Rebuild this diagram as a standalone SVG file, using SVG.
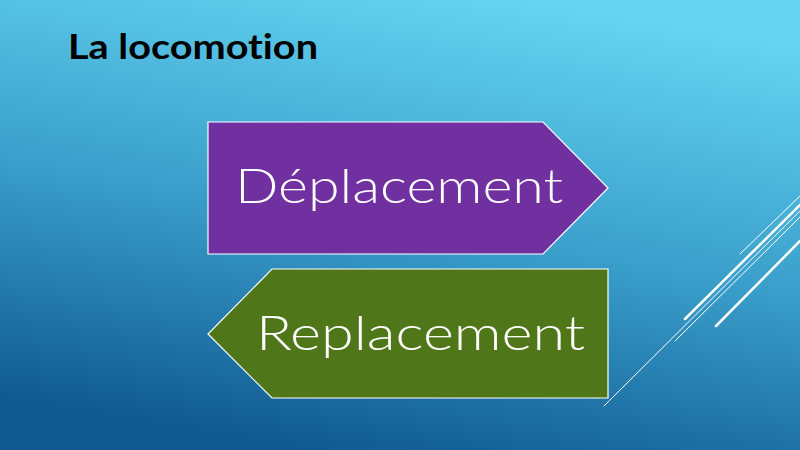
<svg xmlns="http://www.w3.org/2000/svg" width="800" height="450" viewBox="0 0 800 450">
<defs>
<linearGradient id="bg" x1="0.35" y1="1" x2="0.65" y2="0">
<stop offset="0" stop-color="#0f5890"/>
<stop offset="0.5" stop-color="#3a9fcb"/>
<stop offset="1" stop-color="#64d4f0"/>
</linearGradient>
<style>
text{font-variant-ligatures:none}
.shape{stroke:#ffffff;stroke-width:1.2}
.lbl{font-family:Lato,"Open Sans","DejaVu Sans",sans-serif;font-weight:300;font-size:48px;fill:#ffffff}
.deco{stroke:#ffffff;stroke-linecap:round;fill:none}
</style>
</defs>
<rect width="800" height="450" fill="url(#bg)"/>
<text x="68" y="59" font-family="Lato,'DejaVu Sans',sans-serif" font-weight="700" font-size="34" fill="#000000" textLength="250" lengthAdjust="spacingAndGlyphs">La locomotion</text>
<g id="decor">
<line class="deco" x1="740" y1="254" x2="800" y2="196" stroke-width="1"/>
<line class="deco" x1="685" y1="319" x2="800" y2="205" stroke-width="2.5"/>
<line class="deco" x1="604" y1="406" x2="800" y2="211" stroke-width="1"/>
<line class="deco" x1="675" y1="341" x2="800" y2="217" stroke-width="1"/>
<line class="deco" x1="716" y1="326" x2="800" y2="241" stroke-width="2.5"/>
</g>
<g id="deplacement">
<polygon class="shape" points="208,122 543,122 608,188 543,254 208,254" fill="#7030a0"/>
<text class="lbl" x="235" y="203" textLength="328" lengthAdjust="spacingAndGlyphs">Déplacement</text>
</g>
<g id="replacement">
<polygon class="shape" points="272,269 608,269 608,398 272,398 208,334" fill="#50761a"/>
<text class="lbl" x="256" y="350" textLength="329" lengthAdjust="spacingAndGlyphs">Replacement</text>
</g>
<g id="connectors"/>
</svg>
